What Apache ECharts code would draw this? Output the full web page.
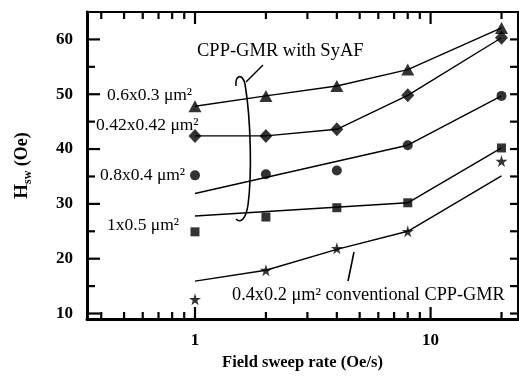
<!DOCTYPE html>
<html>
<head>
<meta charset="utf-8">
<script src="https://cdn.jsdelivr.net/npm/echarts@6/dist/echarts.min.js"></script>
<style>html,body{margin:0;padding:0;background:#fff;}#c{width:519px;height:377px;}</style>
</head>
<body>
<div id="c"></div>
<script>
// ---- data ----
const rates = [1, 2, 4, 8, 20];
const tri = [47.8, 49.7, 51.5, 54.5, 62.1];      // 0.6x0.3
const dia = [42.4, 42.4, 43.6, 49.8, 60.3];      // 0.42x0.42
const cir = [35.2, 35.4, 36.1, 40.7, 49.7];      // 0.8x0.4
const sqr = [24.9, 27.6, 29.3, 30.2, 40.2];      // 1x0.5
const star = [12.6, 17.9, 21.9, 25.0, 37.8];     // 0.4x0.2 conventional
// fitted guide lines
const triLineX = [1, 2, 4, 8, 20];
const triLine = [47.8, 49.7, 51.5, 54.5, 62.1];
const diaLineX = [1, 2, 4, 8, 20];
const diaLine = [42.4, 42.4, 43.6, 49.8, 60.3];
const cirLineX = [1, 8, 20];
const cirLine = [31.9, 40.7, 49.7];
const sqrLineX = [1, 8, 20];
const sqrLine = [27.8, 30.2, 40.2];
const starLineX = [1, 2, 4, 8, 20];
const starLine = [15.9, 17.9, 21.7, 25.0, 35.1];
// ticks
const xTickMajor = [1, 10];
const xTickMinor = [0.4, 0.5, 0.6, 0.7, 0.8, 0.9, 2, 3, 4, 5, 6, 7, 8, 9, 20];
const yTickMajor = [10, 20, 30, 40, 50, 60];
const yTickMinor = [15, 25, 35, 45, 55];
const xMin = 0.348, xMax = 23.5, yMin = 9, yMax = 65;

const FONT = "'Liberation Serif','Times New Roman',serif";
const zip = (xs, ys) => xs.map((x, i) => [x, ys[i]]);
const starPath = 'path://M50,0 L61,35 L98,35 L68,57 L79,91 L50,70 L21,91 L32,57 L2,35 L39,35 Z';

function lineSeries(xs, ys) {
  return { type: 'line', data: zip(xs, ys), symbol: 'none', lineStyle: { color: '#000', width: 1.4 }, z: 3, silent: true };
}
function scat(ys, symbol, size) {
  return { type: 'scatter', data: zip(rates, ys), symbol: symbol, symbolSize: size, itemStyle: { color: '#000' }, z: 4 };
}

const xTickData = xTickMajor.map(v => [v, yMin, 1]).concat(xTickMinor.map(v => [v, yMin, 0]));
const yTickData = yTickMajor.map(v => [1, v, 1]).concat(yTickMinor.map(v => [1, v, 0]));

const chart = echarts.init(document.getElementById('c'), null, { renderer: 'canvas' });
chart.setOption({
  animation: false,
  backgroundColor: '#fff',
  grid: { left: 87, right: 1, top: 12, bottom: 58, show: true, borderColor: '#000', borderWidth: 2, backgroundColor: 'transparent' },
  xAxis: {
    type: 'log', logBase: 10, min: xMin, max: xMax,
    axisLine: { show: true, lineStyle: { color: '#000', width: 3 } },
    axisTick: { show: false }, splitLine: { show: false },
    axisLabel: {
      margin: 13, color: '#000', fontFamily: FONT, fontWeight: 'bold', fontSize: 17,
      showMinLabel: false, showMaxLabel: false,
      formatter: v => (Math.abs(v - 1) < 1e-6 ? '1' : (Math.abs(v - 10) < 1e-5 ? '10' : ''))
    },
    name: 'Field sweep rate (Oe/s)', nameLocation: 'middle', nameGap: 34,
    nameTextStyle: { color: '#000', fontFamily: FONT, fontWeight: 'bold', fontSize: 16.5 }
  },
  yAxis: {
    type: 'value', min: yMin, max: yMax,
    axisLine: { show: true, lineStyle: { color: '#000', width: 3 } },
    axisTick: { show: false }, splitLine: { show: false },
    axisLabel: {
      margin: 14, color: '#000', fontFamily: FONT, fontWeight: 'bold', fontSize: 17,
      showMinLabel: false, showMaxLabel: false,
      formatter: v => (v % 10 === 0 ? String(v) : '')
    },
    name: '{h|H}{s|sw}{o| (Oe)}', nameLocation: 'middle', nameGap: 53,
    nameTextStyle: {
      color: '#000', fontFamily: FONT, fontWeight: 'bold', fontSize: 18,
      rich: {
        h: { fontFamily: FONT, fontWeight: 'bold', fontSize: 19, lineHeight: 24, color: '#000' },
        s: { fontFamily: FONT, fontWeight: 'bold', fontSize: 12, lineHeight: 13, verticalAlign: 'bottom', color: '#000' },
        o: { fontFamily: FONT, fontWeight: 'bold', fontSize: 18, lineHeight: 24, color: '#000' }
      }
    }
  },
  series: [
    lineSeries(triLineX, triLine),
    lineSeries(diaLineX, diaLine),
    lineSeries(cirLineX, cirLine),
    lineSeries(sqrLineX, sqrLine),
    lineSeries(starLineX, starLine),
    scat(tri, 'triangle', [13, 12]),
    scat(dia, 'diamond', [13, 14]),
    scat(cir, 'circle', 10),
    scat(sqr, 'rect', 9),
    scat(star, starPath, 12),
    {
      type: 'custom', data: xTickData, clip: false, silent: true, z: 5,
      renderItem: function (params, api) {
        const cs = params.coordSys;
        const x = api.coord([api.value(0), yMin])[0];
        const L = api.value(2) ? 12 : 7;
        const bottom = cs.y + cs.height, top = cs.y;
        return {
          type: 'group', children: [
            { type: 'line', shape: { x1: x, y1: bottom, x2: x, y2: bottom - L }, style: { stroke: '#000', lineWidth: 2.2 } },
            { type: 'line', shape: { x1: x, y1: top, x2: x, y2: top + L }, style: { stroke: '#000', lineWidth: 2.2 } }
          ]
        };
      }
    },
    {
      type: 'custom', data: yTickData, clip: false, silent: true, z: 5,
      renderItem: function (params, api) {
        const cs = params.coordSys;
        const y = api.coord([1, api.value(1)])[1];
        const L = api.value(2) ? 13 : 8;
        const left = cs.x, right = cs.x + cs.width;
        return {
          type: 'group', children: [
            { type: 'line', shape: { x1: left, y1: y, x2: left + L, y2: y }, style: { stroke: '#000', lineWidth: 2.2 } },
            { type: 'line', shape: { x1: right, y1: y, x2: right - 8, y2: y }, style: { stroke: '#000', lineWidth: 2.2 } }
          ]
        };
      }
    }
  ],
  graphic: [
    { type: 'text', left: 107, top: 86, style: { text: '0.6x0.3 μm²', font: "17.5px " + FONT, fill: '#000' } },
    { type: 'text', left: 96, top: 116, style: { text: '0.42x0.42 μm²', font: "17.5px " + FONT, fill: '#000' } },
    { type: 'text', left: 100, top: 166, style: { text: '0.8x0.4 μm²', font: "17.5px " + FONT, fill: '#000' } },
    { type: 'text', left: 107, top: 216, style: { text: '1x0.5 μm²', font: "17.5px " + FONT, fill: '#000' } },
    { type: 'text', left: 197, top: 42, style: { text: 'CPP-GMR with SyAF', font: "18.5px " + FONT, fill: '#000' } },
    { type: 'text', left: 232, top: 286, style: { text: '0.4x0.2 μm² conventional CPP-GMR', font: "18.3px " + FONT, fill: '#000' } },
    { type: 'bezierCurve', shape: { x1: 236, y1: 86, cpx1: 235, cpy1: 76, cpx2: 242, cpy2: 72, x2: 245, y2: 84 }, style: { stroke: '#000', lineWidth: 1.6, fill: null } },
    { type: 'bezierCurve', shape: { x1: 245, y1: 84, cpx1: 251, cpy1: 120, cpx2: 252, cpy2: 175, x2: 248, y2: 205 }, style: { stroke: '#000', lineWidth: 1.6, fill: null } },
    { type: 'bezierCurve', shape: { x1: 248, y1: 205, cpx1: 246, cpy1: 218, cpx2: 241, cpy2: 224, x2: 236, y2: 219 }, style: { stroke: '#000', lineWidth: 1.6, fill: null } },
    { type: 'line', shape: { x1: 246, y1: 82, x2: 263, y2: 65 }, style: { stroke: '#000', lineWidth: 1.4 } },
    { type: 'line', shape: { x1: 348, y1: 281, x2: 354, y2: 252 }, style: { stroke: '#000', lineWidth: 1.6 } }
  ]
});
</script>
</body>
</html>
